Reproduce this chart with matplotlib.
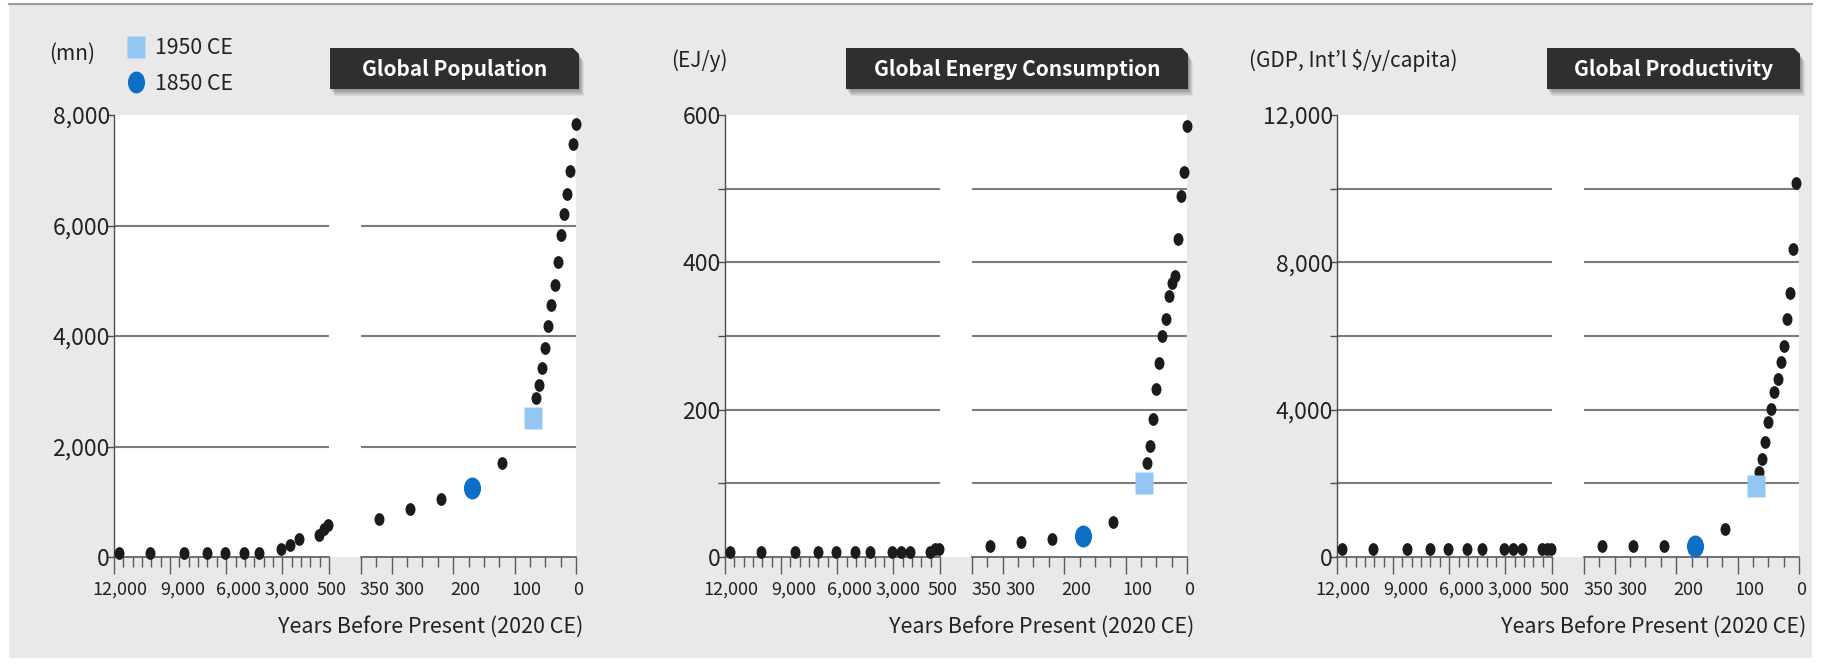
import matplotlib
matplotlib.use("Agg")
import matplotlib.pyplot as plt
import numpy as np
from matplotlib.path import Path
from matplotlib.transforms import Affine2D, ScaledTranslation
from matplotlib.lines import Line2D
from matplotlib.patches import Polygon, Rectangle
from matplotlib.ticker import FixedLocator, FuncFormatter

plt.rcParams['font.family'] = ['Noto Sans CJK KR', 'DejaVu Sans']

# ---------------- data ----------------
years_early = [11750, 10050, 8230, 7050, 6070, 5070, 4230, 3080, 2560, 2080, 1060, 760, 580]
years_late = [320, 270, 220, 170, 120, 70, 65, 60, 55, 50, 45, 40, 35, 30, 25, 20, 15, 10, 5, 0]
year_1850 = 170
year_1950 = 70

pop_early = [80, 80, 80, 80, 80, 80, 80, 145, 215, 330, 390, 510, 580]
pop_late = [690, 870, 1055, 1255, 1710, 2510, 2870, 3110, 3420, 3780, 4180, 4560,
            4930, 5345, 5835, 6200, 6565, 6980, 7475, 7835]
energy_early = [7, 7, 7, 7, 7, 7, 7, 7, 7, 7, 7, 11, 11]
energy_late = [15, 20, 24, 29, 47, 101, 128, 151, 187, 228, 264, 300, 323, 354,
               372, 381, 431, 490, 522, 585]
prod_early = [217, 217, 217, 217, 217, 217, 217, 217, 217, 217, 217, 217, 217]
prod_late = [307, 307, 307, 307, 760, 1936, 2316, 2661, 3114, 3657, 4018, 4472,
             4833, 5286, 5737, 6454, 7176, 8354, 10163]

titles = ["Global Population", "Global Energy Consumption", "Global Productivity"]
units = ["(mn)", "(EJ/y)", "(GDP, Int\u2019l $/y/capita)"]
x_label = "Years Before Present (2020 CE)"
early_ticks = [12000, 9000, 6000, 3000, 500]
late_ticks = [350, 300, 200, 100, 0]
legend_labels = ["1950 CE", "1850 CE"]

pop_yticks = [0, 2000, 4000, 6000, 8000]
pop_ylabeled = [0, 2000, 4000, 6000, 8000]
energy_yticks = [0, 100, 200, 300, 400, 500, 600]
energy_ylabeled = [0, 200, 400, 600]
prod_yticks = [0, 2000, 4000, 6000, 8000, 10000, 12000]
prod_ylabeled = [0, 4000, 8000, 12000]

# ---------------- style / layout ----------------
W, H = 1825, 664
DOT = '#1c1a1b'
BLUE = '#0f6fc6'
LIGHT = '#93c6f3'
GRID = '#7c7c7c'
BG = '#e9e9e9'
TXT = '#222222'

# horizontal nudges (px) of the x tick labels, as drawn in the original
early_label_dx = [6, 13, 12, 5, 3]
late_label_dx = [14, 18, 12, 12, 2]

fig = plt.figure(figsize=(W / 100, H / 100), dpi=100)
fig.patch.set_facecolor('white')

def fx(p):
    return p / W

def fy(p):
    return 1 - p / H

TOP, BOT = 115, 557
LW_, GAP, RW_ = 215, 32, 215
panel_x = [114, 725, 1337]
unit_pos = [(49, 54), (671, 61), (1249, 61)]
title_box = [(330, 579), (846, 1188), (1547, 1800)]

ell = Path.unit_circle().transformed(Affine2D().scale(0.78, 1.0))
rect = Path([(-0.39, -0.5), (0.39, -0.5), (0.39, 0.5), (-0.39, 0.5), (-0.39, -0.5)], closed=True)

ov = fig.add_axes([0, 0, 1, 1], zorder=-10)
ov.set_xlim(0, W)
ov.set_ylim(H, 0)
ov.axis('off')
ov.add_patch(Rectangle((9, 4), 1803, 654, facecolor=BG, edgecolor='none'))
ov.plot([9, 1812], [3.5, 3.5], color='#9c9c9c', lw=1.5)

panels = [
    (pop_early, pop_late, 8000, pop_yticks, pop_ylabeled),
    (energy_early, energy_late, 600, energy_yticks, energy_ylabeled),
    (prod_early, prod_late, 12000, prod_yticks, prod_ylabeled),
]


def nudge_labels(ax, dxs):
    for t, dx in zip(ax.xaxis.get_major_ticks(), dxs):
        t.label1.set_transform(t.label1.get_transform() + ScaledTranslation(dx / 100, 0, fig.dpi_scale_trans))


axes_pairs = []
for i, (early, late, ymax, yt, ylab) in enumerate(panels):
    x0 = panel_x[i]
    ov.add_patch(Rectangle((x0, TOP), LW_ + GAP + RW_, BOT - TOP, facecolor='white', edgecolor='none'))

    axL = fig.add_axes([fx(x0), fy(BOT), LW_ / W, (BOT - TOP) / H])
    axR = fig.add_axes([fx(x0 + LW_ + GAP), fy(BOT), RW_ / W, (BOT - TOP) / H])
    axes_pairs.append((axL, axR))
    for ax in (axL, axR):
        ax.patch.set_visible(False)
        ax.set_ylim(0, ymax)
        for s in ('top', 'right'):
            ax.spines[s].set_visible(False)
        ax.spines['bottom'].set_color('#5a5a5a')
        ax.spines['bottom'].set_linewidth(1.2)
        for g in yt[1:-1]:
            ax.axhline(g, color=GRID, lw=1.5, zorder=1)
        ax.tick_params(axis='x', which='major', direction='out', length=12, width=1,
                       color='#5a5a5a', labelsize=13, pad=5, labelcolor=TXT)
        ax.tick_params(axis='x', which='minor', direction='out', length=7, width=1,
                       color='#5a5a5a')
    axR.spines['left'].set_visible(False)
    axR.set_yticks([])
    axL.spines['left'].set_color('#4d4d4d')
    axL.spines['left'].set_linewidth(1.0)
    axL.set_yticks(yt)
    axL.yaxis.set_major_formatter(FuncFormatter(lambda v, p, lab=ylab: f"{int(v):,}" if int(v) in lab else ""))
    axL.tick_params(axis='y', length=5, width=1, color='#4d4d4d', labelsize=16.5, pad=-2,
                    labelcolor=TXT)

    axL.set_xlim(12000, 500)
    axL.xaxis.set_major_locator(FixedLocator(early_ticks))
    axL.xaxis.set_minor_locator(FixedLocator(np.arange(500, 12001, 500)))
    axL.xaxis.set_major_formatter(FuncFormatter(lambda v, p: f"{int(v):,}"))
    axR.set_xlim(350, 0)
    axR.xaxis.set_major_locator(FixedLocator(late_ticks))
    axR.xaxis.set_minor_locator(FixedLocator(np.arange(0, 351, 25)))
    axR.xaxis.set_major_formatter(FuncFormatter(lambda v, p: f"{int(v):,}"))

    axL.plot(years_early, early, ls='none', marker=ell, ms=9.2, color=DOT, mec='none',
             clip_on=False, zorder=3)
    yl = years_late[:len(late)]
    nx = [x for x in yl if x not in (year_1850, year_1950)]
    ny = [v for x, v in zip(yl, late) if x not in (year_1850, year_1950)]
    axR.plot(nx, ny, ls='none', marker=ell, ms=9.2, color=DOT, mec='none', clip_on=False, zorder=3)
    v1850 = late[yl.index(year_1850)]
    v1950 = late[yl.index(year_1950)]
    axR.plot([year_1850], [v1850], ls='none', marker=ell, ms=15.8, color=BLUE, mec='none',
             clip_on=False, zorder=4)
    axR.plot([year_1950], [v1950], ls='none', marker=rect, ms=15.8, color=LIGHT, mec='none',
             clip_on=False, zorder=4)

    xr = x0 + LW_ + GAP + RW_
    ov.text(xr + 7, 627, x_label, ha='right', va='center', fontsize=15.5, color=TXT)
    ov.text(unit_pos[i][0], unit_pos[i][1], units[i], ha='left', va='center', fontsize=15,
            color=TXT)

    bx0, bx1 = title_box[i]
    by0, by1 = 48, 89
    c = 6
    for k in range(1, 9):
        pts = [(bx0 + k * 0.6, by0 + k), (bx1 - c + k * 0.6, by0 + k), (bx1 + k * 0.6, by0 + c + k),
               (bx1 + k * 0.6, by1 + k * 0.9), (bx0 + k * 0.6, by1 + k * 0.9)]
        ov.add_patch(Polygon(pts, closed=True, facecolor='black', edgecolor='none', alpha=0.05))
    pts = [(bx0, by0), (bx1 - c, by0), (bx1, by0 + c), (bx1, by1), (bx0, by1)]
    ov.add_patch(Polygon(pts, closed=True, facecolor='#2f2f2f', edgecolor='none'))
    ov.text((bx0 + bx1) / 2, (by0 + by1) / 2 + 1, titles[i], ha='center', va='center',
            fontsize=15.0, fontweight='bold', color='white')

    if i == 0:
        handles = [Line2D([], [], ls='none', marker=rect, ms=15.8, mfc=LIGHT, mec='none'),
                   Line2D([], [], ls='none', marker=ell, ms=15.8, mfc=BLUE, mec='none')]
        fig.legend(handles, legend_labels, loc='upper left', bbox_to_anchor=(fx(126), fy(37.5)),
                   frameon=False, fontsize=15.3, handlelength=0.9, handletextpad=0.45,
                   labelspacing=0.62, borderpad=0, borderaxespad=0, labelcolor=TXT)

for (axL, axR) in axes_pairs:
    nudge_labels(axL, early_label_dx)
    nudge_labels(axR, late_label_dx)

fig.savefig('out.png', dpi=100, facecolor=fig.get_facecolor())
